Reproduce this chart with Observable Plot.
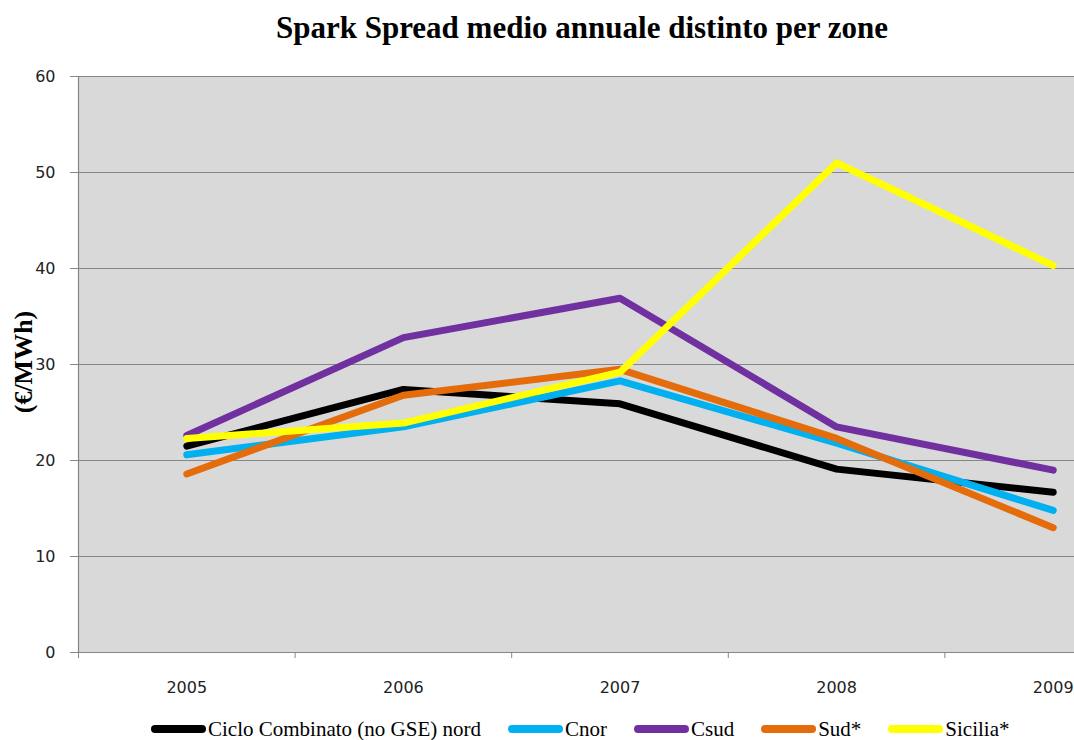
<!DOCTYPE html>
<html>
<head>
<meta charset="utf-8">
<script src="https://cdn.jsdelivr.net/npm/d3@7"></script>
<script src="https://cdn.jsdelivr.net/npm/@observablehq/plot@0.6"></script>
<style>
  html, body { margin: 0; padding: 0; background: #fff; }
  #chart { position: relative; width: 1074px; height: 740px; overflow: hidden; background: #fff; }
  #chart svg { position: absolute; left: 0; top: 0; }
  .title {
    position: absolute; left: 0; top: 12px; width: 1164px; text-align: center;
    font: bold 31px/31px "Liberation Serif", "Times New Roman", serif; color: #000;
  }
  .ytitle {
    position: absolute; left: 24px; top: 362px; transform: translate(-50%, -50%) rotate(-90deg);
    font: bold 26px/26px "Liberation Serif", "Times New Roman", serif; color: #000; white-space: nowrap;
  }
  .legend {
    position: absolute; left: 151px; top: 719px; height: 20px;
    display: flex; align-items: center; gap: 27px;
    font: 21px/20px "Liberation Serif", "Times New Roman", serif; color: #000; white-space: nowrap;
  }
  .legend .item { display: flex; align-items: center; height: 20px; }
  .legend .sw { width: 55px; height: 8px; border-radius: 4px; margin-right: 2px; }
</style>
</head>
<body>
<div id="chart"></div>
<script>
// Annual average spark spread by zone (€/MWh)
const years = [2005, 2006, 2007, 2008, 2009];
const seriesNames = ["Ciclo Combinato (no GSE) nord", "Cnor", "Csud", "Sud*", "Sicilia*"];
const nord    = [21.5, 27.4, 25.9, 19.1, 16.7];
const cnor    = [20.6, 23.5, 28.3, 21.8, 14.8];
const csud    = [22.6, 32.8, 36.9, 23.5, 19.0];
const sud     = [18.6, 26.8, 29.5, 22.3, 13.0];
const sicilia = [22.3, 23.9, 29.2, 51.0, 40.3];
const seriesColors = ["#000000", "#00b0f0", "#7030a0", "#e46c0a", "#ffff00"];
const yTicks = [0, 10, 20, 30, 40, 50, 60];
const titleText = "Spark Spread medio annuale distinto per zone";
const yLabel = "(€/MWh)";

const seriesValues = [nord, cnor, csud, sud, sicilia];
const rows = seriesValues.map((vals, i) =>
  years.map((year, j) => ({year, value: vals[j], series: seriesNames[i]}))
);
// category boundaries (years sit in the middle of each band)
const bounds = years.map(y => y - 0.5).concat([years[years.length - 1] + 0.5]);

const gridColor = "#868686";

const chart = Plot.plot({
  width: 1164,
  height: 740,
  marginTop: 76,
  marginBottom: 88,
  marginLeft: 78,
  marginRight: 3,
  style: {background: "transparent", maxWidth: "none", overflow: "visible"},
  x: {domain: [bounds[0], bounds[bounds.length - 1]]},
  y: {domain: [0, 60]},
  marks: [
    Plot.frame({fill: "#d9d9d9", stroke: null}),
    Plot.gridY(yTicks, {stroke: gridColor, strokeOpacity: 1, strokeWidth: 1.2}),
    Plot.ruleX([bounds[0]], {stroke: gridColor, strokeWidth: 1.2}),
    Plot.ruleY([0], {stroke: gridColor, strokeWidth: 1.2}),
    Plot.axisY(yTicks, {
      tickSize: 8, tickPadding: 15, stroke: gridColor, fill: "#222",
      fontSize: 16, fontFamily: "DejaVu Sans, sans-serif", label: null
    }),
    Plot.axisX(bounds, {
      tickSize: 6, tickFormat: () => "", stroke: gridColor, label: null
    }),
    Plot.axisX(years, {
      tickSize: 0, tickPadding: 29, tickFormat: d => String(d), fill: "#222",
      fontSize: 16, fontFamily: "DejaVu Sans, sans-serif", label: null
    }),
    ...rows.map((data, i) => Plot.line(data, {
      x: "year", y: "value", stroke: seriesColors[i], strokeWidth: 7,
      strokeLinecap: "round", strokeLinejoin: "round"
    }))
  ]
});

const root = document.getElementById("chart");
root.appendChild(chart);

const title = document.createElement("div");
title.className = "title";
title.textContent = titleText;
root.appendChild(title);

const yt = document.createElement("div");
yt.className = "ytitle";
yt.textContent = yLabel;
root.appendChild(yt);

const legend = document.createElement("div");
legend.className = "legend";
seriesNames.forEach((name, i) => {
  const item = document.createElement("div");
  item.className = "item";
  const sw = document.createElement("span");
  sw.className = "sw";
  sw.style.background = seriesColors[i];
  const label = document.createElement("span");
  label.textContent = name;
  item.appendChild(sw);
  item.appendChild(label);
  legend.appendChild(item);
});
root.appendChild(legend);
</script>
</body>
</html>
